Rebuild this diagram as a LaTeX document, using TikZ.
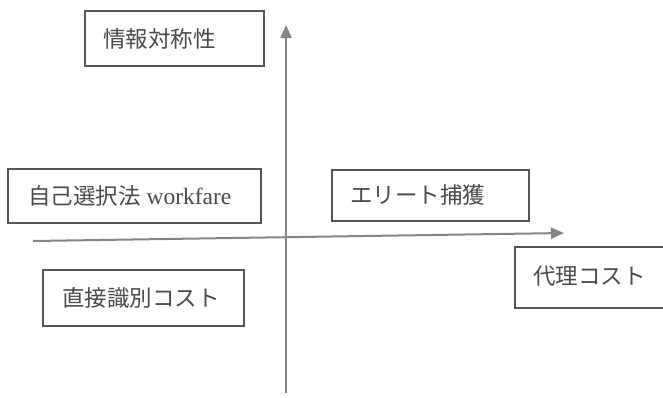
\documentclass[tikz,border=0pt]{standalone}
\usepackage{fontspec}
\setmainfont{Liberation Serif}
\newfontfamily\cjk{Noto Sans CJK JP}
\usetikzlibrary{arrows.meta}
\definecolor{boxc}{HTML}{555555}
\definecolor{axisc}{HTML}{858585}
\definecolor{txtc}{HTML}{4A4A4A}
\begin{document}
\begin{tikzpicture}[x=1pt,y=-1pt,
  qbox/.style={draw=boxc,line width=1.1pt,fill=white},
  qtext/.style={anchor=west,inner sep=0pt,text=txtc,font=\fontsize{22.5pt}{26pt}\selectfont},
  axis/.style={draw=axisc,line width=2pt,-{Triangle[length=13pt,width=11pt]}}]
\useasboundingbox (0,0) rectangle (663,397);
% axes
\coordinate (vb) at (286,393);
\coordinate (vt) at (286,25);
\coordinate (hl) at (33,241);
\coordinate (hr) at (564,233);
\draw[axis] (vb) -- (vt);
\draw[axis] (hl) -- (hr);
% boxes
\draw[qbox] (85,11) rectangle (264,66);
\node[qtext] (a) at (103,39) {\cjk 情報対称性};
\draw[qbox] (8,169) rectangle (261,223);
\node[qtext] (b) at (28,196) {\cjk 自己選択法\rmfamily\fontsize{23.5pt}{26pt}\selectfont\ workfare};
\draw[qbox] (332,170) rectangle (529,221);
\node[qtext] (c) at (350,195) {\cjk エリート捕獲};
\draw[qbox] (515,247) rectangle (680,308);
\node[qtext] (d) at (533,276) {\cjk 代理コスト};
\draw[qbox] (43,270) rectangle (244,326);
\node[qtext] (e) at (62,298) {\cjk 直接識別コスト};
\end{tikzpicture}
\end{document}
